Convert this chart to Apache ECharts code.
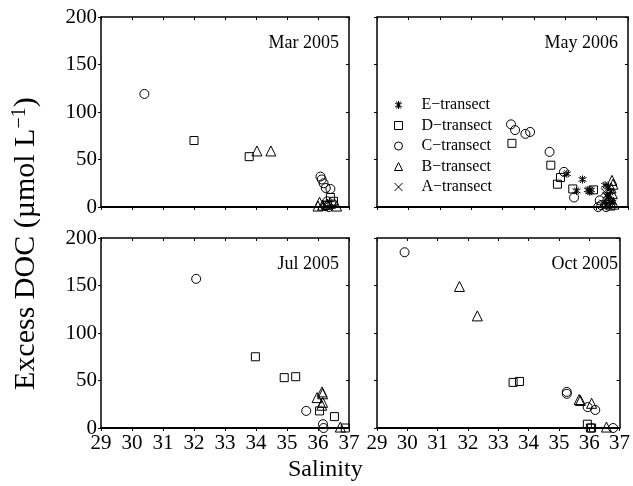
<!DOCTYPE html>
<html><head><meta charset="utf-8">
<script src="https://cdn.jsdelivr.net/npm/echarts@6/dist/echarts.min.js"></script>
<style>html,body{margin:0;padding:0;background:#fff}#c{width:633px;height:486px}</style>
</head><body><div id="c"></div>
<script>
// ---- data (salinity, excess DOC) ----
const panelTitles = ['Mar 2005', 'May 2006', 'Jul 2005', 'Oct 2005'];
const xTicks = [29, 30, 31, 32, 33, 34, 35, 36, 37];
const yTicks = [0, 50, 100, 150, 200];
const transectNames = ['E\u2212transect', 'D\u2212transect', 'C\u2212transect', 'B\u2212transect', 'A\u2212transect'];

const mar05_D = [[32.0,70],[33.78,53],[36.4,10],[36.5,6],[36.45,3],[36.3,2]];
const mar05_C = [[30.4,119],[36.08,32],[36.12,29],[36.18,25],[36.25,20],[36.4,19],[36.3,6],[36.25,1],[36.35,0]];
const mar05_B = [[34.03,59],[34.48,59],[36.05,5],[36.15,2],[36.6,1],[36.0,1],[36.3,3]];

const may06_E = [[35.05,35],[35.55,29],[35.36,17],[35.72,18],[35.78,16],[35.82,18],[36.27,23],[36.38,21],[36.45,16],[36.35,12],[36.42,8],[36.5,5],[36.3,2]];
const may06_D = [[33.3,67],[34.54,44],[34.85,31],[34.75,24],[35.24,19],[35.9,18],[36.3,3],[36.45,1]];
const may06_C = [[33.27,87],[33.4,81],[33.73,77],[33.88,79],[34.5,58],[34.96,37],[35.28,10],[36.1,7],[36.15,2],[36.05,0],[36.3,0]];
const may06_B = [[36.49,28],[36.52,24],[36.46,20],[36.5,14],[36.4,9],[36.55,3]];
const may06_A = [[36.25,16],[36.35,10],[36.45,6],[36.2,4],[36.4,1],[36.3,12]];

const jul05_D = [[33.98,75],[34.91,53],[35.28,54],[36.05,18],[36.53,12],[36.88,0]];
const jul05_C = [[32.07,157],[35.62,18],[36.16,4],[36.18,0]];
const jul05_B = [[36.13,38],[36.15,36],[35.97,32],[36.15,27],[36.12,24],[36.72,1]];

const oct05_D = [[33.49,48],[33.7,49],[35.94,4],[36.04,0],[36.08,0]];
const oct05_C = [[29.91,185],[35.26,38],[35.26,36],[35.95,22],[36.2,19],[36.79,0]];
const oct05_B = [[31.72,149],[32.31,118],[35.67,30],[35.71,29],[36.08,26],[36.57,1]];

// ---- layout / styles ----
const FONT = 'Liberation Serif';
const grids = [
  {left: 101, top: 17, width: 248, height: 190},
  {left: 377, top: 17, width: 251, height: 190},
  {left: 101, top: 238, width: 248, height: 190},
  {left: 377, top: 238, width: 251, height: 190}
];
const symbols = {
  E: {symbol: 'path://M5 0L5 10M0.67 2.5L9.33 7.5M0.67 7.5L9.33 2.5M2.5 0.67L7.5 9.33M7.5 0.67L2.5 9.33', size: 8},
  D: {symbol: 'rect', size: 8},
  C: {symbol: 'circle', size: 9},
  B: {symbol: 'triangle', size: 10},
  A: {symbol: 'path://M0 0L10 10M0 10L10 0', size: 7}
};
const nameOf = {E: transectNames[0], D: transectNames[1], C: transectNames[2], B: transectNames[3], A: transectNames[4]};

const panelSeries = [
  [['D', mar05_D], ['C', mar05_C], ['B', mar05_B]],
  [['E', may06_E], ['D', may06_D], ['C', may06_C], ['B', may06_B], ['A', may06_A]],
  [['D', jul05_D], ['C', jul05_C], ['B', jul05_B]],
  [['D', oct05_D], ['C', oct05_C], ['B', oct05_B]]
];

const xAxis = [], yAxis = [], series = [], title = [];
grids.forEach((g, i) => {
  const showX = i >= 2, showY = i % 2 === 0;
  xAxis.push({
    type: 'value', gridIndex: i, min: xTicks[0], max: xTicks[xTicks.length - 1], interval: 1,
    position: 'bottom',
    axisLine: {onZero: false, lineStyle: {color: '#000', width: 2}},
    axisTick: {show: true, inside: false, length: 3, lineStyle: {color: '#000', width: 1}},
    axisLabel: {show: showX, color: '#000', fontFamily: FONT, fontSize: 21, margin: 5},
    splitLine: {show: false}
  });
  xAxis.push({
    type: 'value', gridIndex: i, min: xTicks[0], max: xTicks[xTicks.length - 1], interval: 1,
    position: 'top',
    axisLine: {onZero: false, lineStyle: {color: '#000', width: 1.5}},
    axisTick: {show: true, inside: true, length: 3, lineStyle: {color: '#000', width: 1}},
    axisLabel: {show: false}, splitLine: {show: false}
  });
  yAxis.push({
    type: 'value', gridIndex: i, min: yTicks[0], max: yTicks[yTicks.length - 1], interval: 50,
    position: 'left',
    axisLine: {onZero: false, lineStyle: {color: '#000', width: 1.5}},
    axisTick: {show: true, inside: false, length: 3, lineStyle: {color: '#000', width: 1}},
    axisLabel: {show: showY, color: '#000', fontFamily: FONT, fontSize: 21, margin: 4},
    splitLine: {show: false}
  });
  yAxis.push({
    type: 'value', gridIndex: i, min: yTicks[0], max: yTicks[yTicks.length - 1], interval: 50,
    position: 'right',
    axisLine: {onZero: false, lineStyle: {color: '#000', width: 1.5}},
    axisTick: {show: true, inside: true, length: 3, lineStyle: {color: '#000', width: 1}},
    axisLabel: {show: false}, splitLine: {show: false}
  });
  panelSeries[i].forEach(([key, data]) => {
    series.push({
      type: 'scatter', name: nameOf[key], xAxisIndex: i * 2, yAxisIndex: i * 2,
      symbol: symbols[key].symbol, symbolSize: symbols[key].size,
      itemStyle: {color: 'none', borderColor: '#000', borderWidth: 1, opacity: 1},
      emphasis: {disabled: true}, silent: true, animation: false,
      data: data
    });
  });
  title.push({
    text: panelTitles[i], right: 633 - (g.left + g.width) + 5, top: g.top + 12,
    textStyle: {fontFamily: FONT, fontSize: 18, fontWeight: 'normal', color: '#000'}
  });
});

const chart = echarts.init(document.getElementById('c'), null, {renderer: 'canvas'});
chart.setOption({
  animation: false,
  backgroundColor: '#fff',
  grid: grids,
  xAxis: xAxis,
  yAxis: yAxis,
  title: title,
  legend: {
    data: transectNames.map(n => ({name: n, itemStyle: {color: 'none', borderColor: '#000', borderWidth: 1}})),
    orient: 'vertical', left: 387, top: 92, itemWidth: 8, itemHeight: 8, itemGap: 4.5,
    selectedMode: false,
    textStyle: {fontFamily: FONT, fontSize: 16, color: '#000', padding: [0, 0, 0, 14], lineHeight: 15}
  },
  series: series,
  graphic: [
    {type: 'text', left: 288, top: 458,
     style: {text: 'Salinity', font: '24px "Liberation Serif"', fill: '#000'}},
    {type: 'text', x: 10, y: 390, rotation: Math.PI / 2,
     style: {text: 'Excess DOC (\u00b5mol L{sup|\u22121})', font: '30px "Liberation Serif"', fill: '#000',
       rich: {sup: {font: '20px "Liberation Serif"', fill: '#000', verticalAlign: 'top', padding: [0, 0, 12, 0]}}}}
  ]
});
</script></body></html>
